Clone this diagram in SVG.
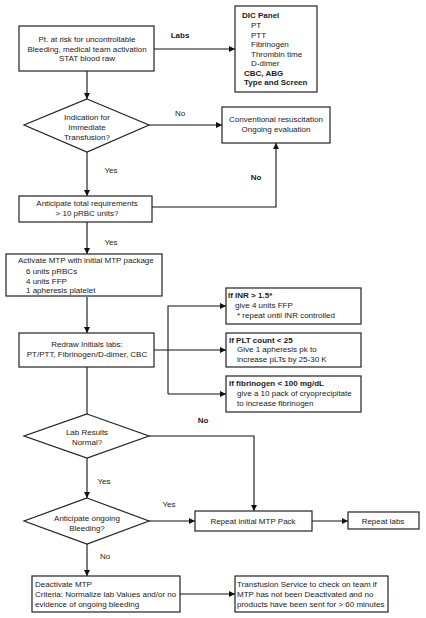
<svg xmlns="http://www.w3.org/2000/svg" width="426" height="618" viewBox="0 0 426 618">
<style>
text{font-family:"Liberation Sans",Arial,sans-serif;font-size:8px;fill:#1a1a1a}
.b{font-weight:bold}
.c{text-anchor:middle}
.box{fill:#fff;stroke:#222;stroke-width:1.2}
.ln{fill:none;stroke:#111;stroke-width:1.1}
</style>
<defs>
<marker id="ar" viewBox="0 0 10 10" refX="10" refY="5" markerWidth="7" markerHeight="6" markerUnits="userSpaceOnUse" orient="auto"><path d="M0,0L10,5L0,10z" fill="#111"/></marker>
</defs>
<rect width="426" height="618" fill="#fff"/>
<g id="connectors">
<path class="ln" d="M154,49H235" marker-end="url(#ar)"/>
<path class="ln" d="M87,71V99" marker-end="url(#ar)"/>
<path class="ln" d="M149,125H222" marker-end="url(#ar)"/>
<path class="ln" d="M87,152V196" marker-end="url(#ar)"/>
<path class="ln" d="M152,207H276V143" marker-end="url(#ar)"/>
<path class="ln" d="M87,222V254" marker-end="url(#ar)"/>
<path class="ln" d="M87,297V333" marker-end="url(#ar)"/>
<path class="ln" d="M154,350H226" marker-end="url(#ar)"/>
<path class="ln" d="M168,394V306H226" marker-end="url(#ar)"/>
<path class="ln" d="M168,394H226" marker-end="url(#ar)"/>
<path class="ln" d="M87,367V414"/>
<path class="ln" d="M149,436H254V511" marker-end="url(#ar)"/>
<path class="ln" d="M87,458V498" marker-end="url(#ar)"/>
<path class="ln" d="M149,521H195" marker-end="url(#ar)"/>
<path class="ln" d="M312,521H348" marker-end="url(#ar)"/>
<path class="ln" d="M87,544V576" marker-end="url(#ar)"/>
<path class="ln" d="M180,594H235" marker-end="url(#ar)"/>
<text x="180" y="38" class="b c">Labs</text>
<text x="180" y="116" class="c">No</text>
<text x="111" y="173" class="c">Yes</text>
<text x="256" y="180" class="b c">No</text>
<text x="111" y="245" class="c">Yes</text>
<text x="203" y="423" class="b c">No</text>
<text x="104" y="484" class="c">Yes</text>
<text x="169" y="507" class="c">Yes</text>
<text x="105" y="559" class="c">No</text>
</g>
<g id="start">
<rect class="box" x="19" y="26" width="135" height="45"/>
<text x="87" y="42" class="c">Pt. at risk for uncontrollable</text>
<text x="87" y="51.5" class="c">Bleeding, medical team activation</text>
<text x="87" y="61" class="c">STAT blood raw</text>
</g>
<g id="labs">
<rect class="box" x="235" y="6" width="82" height="86"/>
<text x="242" y="18" class="b">DIC Panel</text>
<text x="251" y="28">PT</text>
<text x="251" y="37.5">PTT</text>
<text x="251" y="47">Fibrinogen</text>
<text x="251" y="56.5">Thrombin time</text>
<text x="251" y="66">D-dimer</text>
<text x="244" y="75.5" class="b">CBC, ABG</text>
<text x="244" y="85" class="b">Type and Screen</text>
</g>
<g id="indication">
<path class="box" d="M87,99L149,125L87,152L24,125Z"/>
<text x="87" y="120" class="c">Indication for</text>
<text x="87" y="130" class="c">Immediate</text>
<text x="87" y="140" class="c">Transfusion?</text>
</g>
<g id="conventional">
<rect class="box" x="222" y="107" width="108" height="36"/>
<text x="276" y="122" class="c">Conventional resuscitation</text>
<text x="276" y="132" class="c">Ongoing evaluation</text>
</g>
<g id="anticipate">
<rect class="box" x="19" y="196" width="133" height="26"/>
<text x="87" y="206" class="c">Anticipate total requirements</text>
<text x="87" y="215.5" class="c">&gt; 10 pRBC units?</text>
</g>
<g id="activate">
<rect class="box" x="6" y="254" width="156" height="42"/>
<text x="18" y="263">Activate MTP with initial MTP package</text>
<text x="26" y="274">6 units pRBCs</text>
<text x="26" y="283.5">4 units FFP</text>
<text x="26" y="293">1 apheresis platelet</text>
</g>
<g id="redraw">
<rect class="box" x="19" y="333" width="135" height="34"/>
<text x="87" y="347" class="c">Redraw Initials labs:</text>
<text x="87" y="357" class="c">PT/PTT, Fibrinogen/D-dimer, CBC</text>
</g>
<g id="inr">
<rect class="box" x="226" y="288" width="135" height="36"/>
<text x="228" y="298" class="b">If INR &gt; 1.5*</text>
<text x="235" y="308">give 4 units FFP</text>
<text x="237" y="318">* repeat until INR controlled</text>
</g>
<g id="plt">
<rect class="box" x="226" y="333" width="135" height="34"/>
<text x="229" y="343" class="b">If PLT count &lt; 25</text>
<text x="237" y="352">Give 1 apheresis pk to</text>
<text x="237" y="362">increase pLTs by 25-30 K</text>
</g>
<g id="fibrinogen">
<rect class="box" x="226" y="376" width="135" height="36"/>
<text x="229" y="386" class="b">If fibrinogen &lt; 100 mg/dL</text>
<text x="237" y="396">give a 10 pack of cryoprecipitate</text>
<text x="237" y="406">to increase fibrinogen</text>
</g>
<g id="labresults">
<path class="box" d="M87,414L149,436L87,458L24,436Z"/>
<text x="87" y="435" class="c">Lab Results</text>
<text x="87" y="444.5" class="c">Normal?</text>
</g>
<g id="ongoing">
<path class="box" d="M87,498L149,521L87,544L24,521Z"/>
<text x="87" y="521" class="c">Anticipate ongoing</text>
<text x="87" y="531" class="c">Bleeding?</text>
</g>
<g id="repeatmtp">
<rect class="box" x="195" y="511" width="117" height="20"/>
<text x="253" y="524" class="c">Repeat initial MTP Pack</text>
</g>
<g id="repeatlabs">
<rect class="box" x="348" y="512" width="71" height="17"/>
<text x="383" y="523.5" class="c">Repeat labs</text>
</g>
<g id="deactivate">
<rect class="box" x="32" y="576" width="148" height="36"/>
<text x="35" y="587">Deactivate MTP</text>
<text x="35" y="597">Criteria: Normalize lab Values and/or no</text>
<text x="35" y="606.5">evidence of ongoing bleeding</text>
</g>
<g id="transfusion">
<rect class="box" x="235" y="576" width="153" height="36"/>
<text x="237" y="586.5">Transfusion Service to check on team if</text>
<text x="237" y="597">MTP has not been Deactivated and no</text>
<text x="237" y="607">products have been sent for &gt; 60 minutes</text>
</g>
</svg>
